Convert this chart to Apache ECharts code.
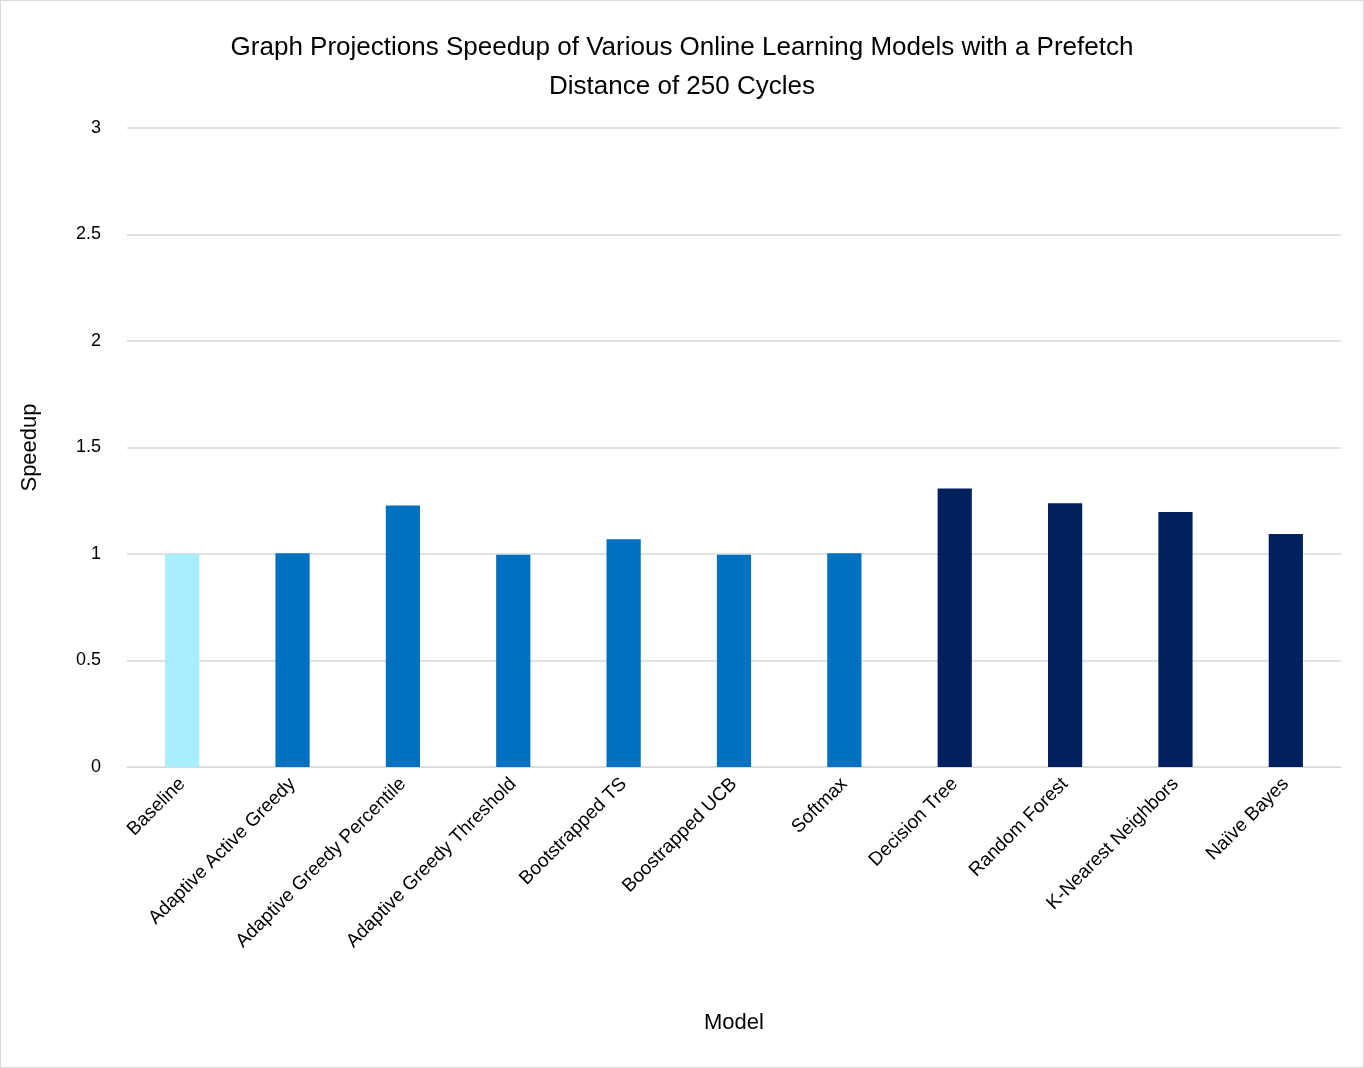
<!doctype html>
<html>
<head>
<meta charset="UTF-8">
<script src="https://cdn.jsdelivr.net/npm/echarts@6/dist/echarts.min.js"></script>
<style>
  html, body { margin: 0; padding: 0; background: #fff; }
  #chart { width: 1362px; height: 1066px; border: 1px solid #d9d9d9; }
</style>
</head>
<body>
<div id="chart"></div>
<script>
var models = ['Baseline', 'Adaptive Active Greedy', 'Adaptive Greedy Percentile', 'Adaptive Greedy Threshold',
  'Bootstrapped TS', 'Boostrapped UCB', 'Softmax', 'Decision Tree', 'Random Forest', 'K-Nearest Neighbors', 'Naïve Bayes'];
var speedup = [1.0, 1.003, 1.228, 0.997, 1.069, 0.997, 1.003, 1.308, 1.238, 1.197, 1.094];
// 0 = baseline, 1 = online bandit style, 2 = offline ML
var groups = [0, 1, 1, 1, 1, 1, 1, 2, 2, 2, 2];
var groupColors = ['#A9EEFF', '#0070C0', '#002060'];

var font = 'Liberation Sans, Open Sans, sans-serif';
var chart = echarts.init(document.getElementById('chart'));
chart.setOption({
  title: {
    text: 'Graph Projections Speedup of Various Online Learning Models with a Prefetch\nDistance of 250 Cycles',
    left: 'center', top: 22,
    textStyle: { fontFamily: font, fontSize: 26, fontWeight: 'normal', color: '#000', lineHeight: 39 }
  },
  grid: { left: 126, right: 22, top: 127, bottom: 300 },
  xAxis: {
    type: 'category',
    data: models,
    name: 'Model', nameLocation: 'middle', nameGap: 245,
    nameTextStyle: { fontFamily: font, fontSize: 22, color: '#000' },
    axisLine: { lineStyle: { color: '#d9d9d9' } },
    axisTick: { show: false },
    axisLabel: { rotate: 45, interval: 0, fontFamily: font, fontSize: 19, color: '#000', margin: 14 }
  },
  yAxis: {
    type: 'value', min: 0, max: 3, interval: 0.5,
    name: 'Speedup', nameLocation: 'middle', nameGap: 86,
    nameTextStyle: { fontFamily: font, fontSize: 22, color: '#000' },
    axisLine: { show: false }, axisTick: { show: false },
    axisLabel: { fontFamily: font, fontSize: 18, color: '#000', margin: 26 },
    splitLine: { lineStyle: { color: '#d9d9d9', width: 1.5 } }
  },
  series: [{
    type: 'bar',
    barWidth: '31%',
    data: speedup.map(function (v, i) {
      return { value: v, itemStyle: { color: groupColors[groups[i]] } };
    })
  }]
});
</script>
</body>
</html>
